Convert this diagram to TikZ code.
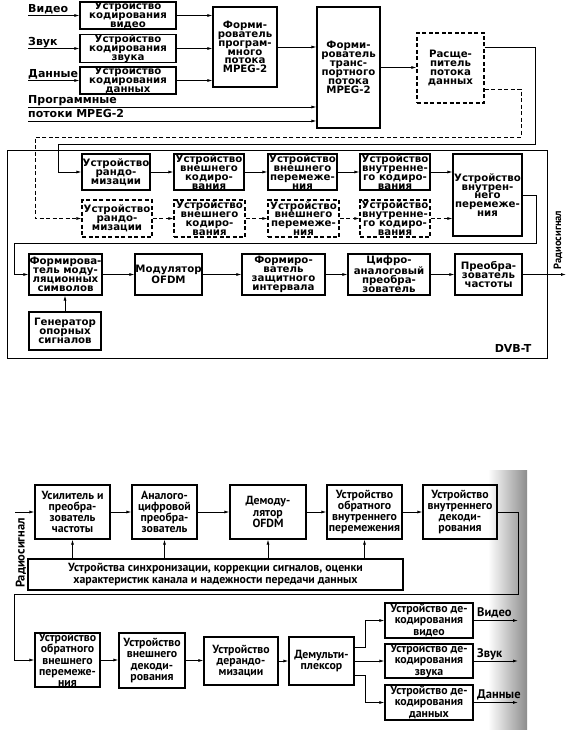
\documentclass[tikz,border=0pt]{standalone}
\usepackage{fontspec}
\newfontfamily\dvfont{DejaVu Sans}
\newfontfamily\ptfont{PT Sans}
\usetikzlibrary{arrows.meta}
\newcommand\mkbox[7]{\node[#1, minimum width={(#5-#3)*1pt}, minimum height={(#6-#4)*1pt}] (#2) at ({(#3+#5)/2},{(#4+#6)/2}) {#7};}
\tikzset{
 tb/.style={draw, line width=1.1pt, inner sep=0pt, align=center, font={\dvfont\bfseries\fontsize{10.2}{8.9}\selectfont}},
 tbd/.style={tb, dash pattern=on 4pt off 2.5pt},
 bb/.style={draw, line width=1.2pt, inner sep=0pt, align=center, font={\ptfont\bfseries\fontsize{11.8}{11.2}\selectfont}},
 arr/.style={line width=0.8pt, -{Latex[length=5pt,width=3pt]}},
 darr/.style={arr, dash pattern=on 4pt off 2.5pt},
 lbl/.style={inner sep=0pt, font={\dvfont\bfseries\fontsize{11}{11}\selectfont}},
 blbl/.style={inner sep=0pt, font={\ptfont\bfseries\fontsize{12.5}{12}\selectfont}},
 rlbl/.style={inner sep=0pt, rotate=90, font={\ptfont\bfseries\fontsize{10.5}{10}\selectfont}},
}
\begin{document}
\begin{tikzpicture}[x=1pt,y=-1pt]
\useasboundingbox (0,0) rectangle (582,730);
\fill[white] (0,0) rectangle (582,730);
\shade[left color=white, right color=black!45] (488,470) rectangle (527,730);
% ---------------- top diagram ----------------
\mkbox{tb}{v1}{80}{2}{176}{29}{Устройство\\кодирования\\видео}
\mkbox{tb}{v2}{80}{35}{176}{62}{Устройство\\кодирования\\звука}
\mkbox{tb}{v3}{80}{67}{176}{94}{Устройство\\кодирования\\данных}
\mkbox{tb}{prog}{213}{7}{277}{87}{Форми-\\рователь\\програм-\\много\\потока\\MPEG-2}
\mkbox{tb}{trans}{317}{7}{380}{128}{Форми-\\рователь\\транс-\\портного\\потока\\MPEG-2}
\mkbox{tbd}{split}{417}{33}{484}{103}{Расще-\\питель\\потока\\данных}

\node[lbl, anchor=base west] (lv) at (28,12.5) {Видео};
\node[lbl, anchor=base west] (lz) at (28,45.5) {Звук};
\node[lbl, anchor=base west] (ld) at (28,77.5) {Данные};
\draw[arr] ([yshift=-3pt]lv.base west) -- ([yshift=-3pt]lv.base west -| v1.west);
\draw[arr] ([yshift=-3pt]lz.base west) -- ([yshift=-3pt]lz.base west -| v2.west);
\draw[arr] ([yshift=-3pt]ld.base west) -- ([yshift=-3pt]ld.base west -| v3.west);
\draw[arr] (v1.east) -- (v1.east -| prog.west);
\draw[arr] (v2.east) -- (v2.east -| prog.west);
\draw[arr] (v3.east) -- (v3.east -| prog.west);
\draw[arr] (prog.east) -- (prog.east -| trans.west);

\node[lbl, anchor=base west] (lp1) at (28,104) {Программные};
\node[lbl, anchor=base west] (lp2) at (28,118) {потоки MPEG-2};
\draw[arr] ([yshift=-3pt]lp1.base west) -- ([yshift=-3pt]lp1.base west -| trans.west);
\draw[arr] ([yshift=-3pt]lp2.base west) -- ([yshift=-3pt]lp2.base west -| trans.west);
\draw[arr] (trans.east) -- (trans.east -| split.west);

% frame
\draw[line width=0.8pt] (7,150) rectangle (547,358);

% row 2 solid
\mkbox{tb}{rnd}{82}{154}{150}{190}{Устройство\\рандо-\\мизации}
\mkbox{tb}{ext}{174}{154}{244}{190}{Устройство\\внешнего\\кодиро-\\вания}
\mkbox{tb}{eil}{268}{154}{337}{190}{Устройство\\внешнего\\перемеже-\\ния}
\mkbox{tb}{ic}{360}{154}{430}{190}{Устройство\\внутренне-\\го кодиро-\\вания}
\mkbox{tb}{ii}{453}{154}{522}{236}{Устройство\\внутрен-\\него\\перемеже-\\ния}
% row 3 dashed
\mkbox{tbd}{drnd}{82}{200}{152}{237}{Устройство\\рандо-\\мизации}
\mkbox{tbd}{dext}{174}{200}{245}{237}{Устройство\\внешнего\\кодиро-\\вания}
\mkbox{tbd}{deil}{268}{200}{339}{237}{Устройство\\внешнего\\перемеже-\\ния}
\mkbox{tbd}{dic}{360}{200}{430}{237}{Устройство\\внутренне-\\го кодиро-\\вания}

\coordinate (k1) at (535,47);
\coordinate (k2) at (535,144);
\coordinate (k3) at (58,144);
\draw[arr] (split.east |- k1) -- (k1) -- (k2) -- (k3) |- (rnd.west);
\coordinate (m1) at (521,89);
\coordinate (m2) at (521,137);
\coordinate (m3) at (35,137);
\draw[darr] (split.east |- m1) -- (m1) -- (m2) -- (m3) |- (drnd.west);

\draw[arr] (rnd.east) -- (ext.west);
\draw[arr] (ext.east) -- (eil.west);
\draw[arr] (eil.east) -- (ic.west);
\draw[arr] (ic.east) -- (ic.east -| ii.west);
\draw[darr] (drnd.east) -- (dext.west);
\draw[darr] (dext.east) -- (deil.west);
\draw[darr] (deil.east) -- (dic.west);
\draw[darr] (dic.east) -- (dic.east -| ii.west);

% row 4
\mkbox{tb}{ms}{29}{254}{102}{295}{Формирова-\\тель моду-\\ляционных\\символов}
\mkbox{tb}{ofdm}{135}{254}{202}{295}{Модулятор\\OFDM}
\mkbox{tb}{gi}{242}{254}{325}{295}{Формиро-\\ватель\\защитного\\интервала}
\mkbox{tb}{dac}{348}{254}{430}{295}{Цифро-\\аналоговый\\преобра-\\зователь}
\mkbox{tb}{fc}{455}{254}{522}{295}{Преобра-\\зователь\\частоты}
\mkbox{tb}{gen}{29}{312}{101}{350}{Генератор\\опорных\\сигналов}

\coordinate (n1) at (536,195);
\coordinate (n2) at (536,243);
\coordinate (n3) at (14,243);
\draw[arr] (ii.east |- n1) -- (n1) -- (n2) -- (n3) |- (ms.west);
\draw[arr] (ms.east) -- (ofdm.west);
\draw[arr] (ofdm.east) -- (gi.west);
\draw[arr] (gi.east) -- (dac.west);
\draw[arr] (dac.east) -- (fc.west);
\draw[arr] (gen.north) -- (gen.north |- ms.south);
\coordinate (rs) at (566,274.5);
\draw[arr] (fc.east) -- (rs);
\node[rlbl] (rsl) at (558,240) {Радиосигнал};
\node[inner sep=0pt, font={\dvfont\bfseries\fontsize{11}{11}\selectfont}] (dvb) at (513,348) {DVB-T};

% ---------------- bottom diagram ----------------
\mkbox{bb}{b1}{35}{485}{110}{539}{Усилитель и\\преобра-\\зователь\\частоты}
\mkbox{bb}{b2}{132}{485}{197}{539}{Аналого-\\цифровой\\преобра-\\зователь}
\mkbox{bb}{b3}{230}{485}{306}{539}{Демоду-\\лятор\\OFDM}
\mkbox{bb}{b4}{327}{485}{402}{539}{Устройство\\обратного\\внутреннего\\перемежения}
\mkbox{bb}{b5}{423}{485}{497}{539}{Устройство\\внутреннего\\декоди-\\рования}
\mkbox{bb}{sync}{28}{559}{403}{590}{Устройства синхронизации, коррекции сигналов, оценки\\характеристик канала и надежности передачи данных}

\coordinate (rin) at (15,512);
\draw[arr] (rin) -- (b1.west);
\node[rotate=90, blbl] (rbl) at (21,553) {Радиосигнал};
\draw[arr] (b1.east) -- (b2.west);
\draw[arr] (b2.east) -- (b3.west);
\draw[arr] (b3.east) -- (b4.west);
\draw[arr] (b4.east) -- (b5.west);
\draw[arr] (b1.south |- sync.north) -- (b1.south);
\draw[arr] (b2.south |- sync.north) -- (b2.south);
\draw[arr] (b3.south |- sync.north) -- (b3.south);
\draw[arr] (b4.south |- sync.north) -- (b4.south);

\mkbox{bb}{c1}{35}{633}{100}{687}{Устройство\\обратного\\внешнего\\перемеже-\\ния}
\mkbox{bb}{c2}{119}{633}{185}{688}{Устройство\\внешнего\\декоди-\\рования}
\mkbox{bb}{c3}{204}{637}{278}{685}{Устройство\\дерандо-\\мизации}
\mkbox{bb}{c4}{289}{637}{354}{685}{Демульти-\\плексор}
\mkbox{bb}{d1}{385}{603}{473}{638}{Устройство де-\\кодирования\\видео}
\mkbox{bb}{d2}{385}{644}{473}{678}{Устройство де-\\кодирования\\звука}
\mkbox{bb}{d3}{385}{685}{473}{720}{Устройство де-\\кодирования\\данных}

\coordinate (p1) at (518,512);
\coordinate (p2) at (518,594);
\coordinate (p3) at (14,594);
\draw[arr] (b5.east) -- (p1) -- (p2) -- (p3) |- (c1.west);
\draw[arr] (c1.east) -- (c1.east -| c2.west);
\draw[arr] (c2.east) -- (c2.east -| c3.west);
\draw[arr] (c3.east) -- (c3.east -| c4.west);
\coordinate (q1) at (365,647);
\coordinate (q2) at (365,675);
\draw[arr] (c4.east |- q1) -- (q1) |- (d1.west);
\draw[arr] (c4.east) -- (c4.east -| d2.west);
\draw[arr] (c4.east |- q2) -- (q2) |- (d3.west);

\coordinate (ov) at (518,620.5);
\coordinate (oz) at (518,661);
\coordinate (od) at (518,702.5);
\draw[arr] (d1.east) -- (ov);
\draw[arr] (d2.east) -- (oz);
\draw[arr] (d3.east) -- (od);
\node[blbl, anchor=base west] (tv) at (477,616) {Видео};
\node[blbl, anchor=base west] (tz) at (477,657) {Звук};
\node[blbl, anchor=base west] (td) at (477,698.5) {Данные};
\end{tikzpicture}
\end{document}
